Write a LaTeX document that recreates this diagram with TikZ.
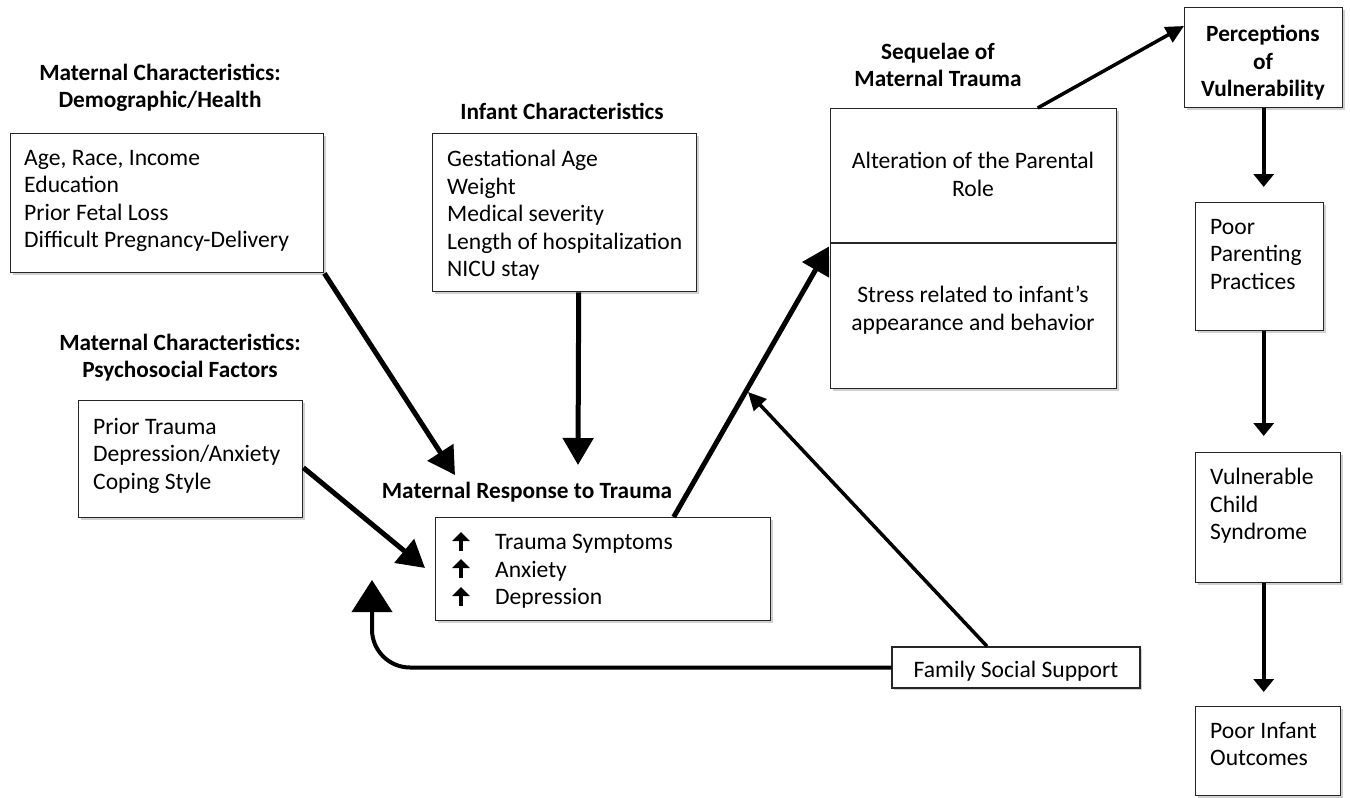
\documentclass[tikz,border=0pt]{standalone}
\usepackage{fontspec}
\setmainfont{Carlito}
\usetikzlibrary{arrows.meta,shadows,calc}
\begin{document}
\begin{tikzpicture}[x=1pt,y=-1pt,
  every node/.style={font=\fontsize{23.6}{27.5}\selectfont},
  box/.style={draw=black!85, line width=1.4pt, fill=white, inner sep=0pt,
    drop shadow={shadow xshift=2pt,shadow yshift=-2pt,opacity=0.3,fill=black!60}},
  ttl/.style={font=\fontsize{23.3}{27}\selectfont\bfseries, align=center, inner sep=0pt},
  txt/.style={align=left, inner sep=0pt, anchor=north west},
  ctxt/.style={align=center, inner sep=0pt},
  big/.style={line width=5pt, -{Triangle[length=27pt,width=30pt]}},
  chain/.style={line width=4pt, -{Triangle[length=13pt,width=20pt]}},
  mid/.style={line width=3.5pt, -{Triangle[length=18pt,width=17pt]}},
  fback/.style={line width=4pt, rounded corners=38pt, -{Triangle[length=32pt,width=40pt]}},
  bullarr/.style={line width=3.5pt, -{Triangle[length=9pt,width=17pt]}}
]
\useasboundingbox[fill=white] (0,0) rectangle (1350,798);

% titles
\node[ttl] (t1) at (160,88) {Maternal Characteristics:\\Demographic/Health};
\node[ttl] (t2) at (562,111) {Infant Characteristics};
\node[ttl] (t3) at (180,357.5) {Maternal Characteristics:\\Psychosocial Factors};
\node[ttl] (t4) at (527,492) {Maternal Response to Trauma};
\node[ttl] (t5) at (938,65) {Sequelae of\\Maternal Trauma};

% boxes
\node[box, anchor=north west, minimum width=313pt, minimum height=139pt] (b1) at (10,133) {};
\node[txt] (b1t) at (24,150) {Age, Race, Income\\Education\\Prior Fetal Loss\\Difficult Pregnancy-Delivery};

\node[box, anchor=north west, minimum width=264pt, minimum height=158pt] (b2) at (432,133) {};
\node[txt] (b2t) at (447,150) {Gestational Age\\Weight\\Medical severity\\Length of hospitalization\\NICU stay};

\node[box, anchor=north west, minimum width=224pt, minimum height=117pt] (b3) at (78,400) {};
\node[txt] (b3t) at (93,418) {Prior Trauma\\Depression/Anxiety\\Coping Style};

\node[box, anchor=north west, minimum width=335pt, minimum height=103pt] (b4) at (435,517) {};
\node[txt] (b4t) at (495,534) {Trauma Symptoms\\Anxiety\\Depression};
\foreach \yy in {542,569,597}
  \draw[bullarr] (461,\yy+9) -- (461,\yy-10);

\node[box, anchor=north west, minimum width=286pt, minimum height=280pt] (b5) at (830,108) {};
\draw[line width=1.6pt, black!85] (b5.west |- 0,243) -- (b5.east |- 0,243);
\node[ctxt] (b5a) at (973,174.5) {Alteration of the Parental\\Role};
\node[ctxt] (b5b) at (973,310) {Stress related to infant’s\\appearance and behavior};

\node[box, anchor=north west, minimum width=158pt, minimum height=100pt] (perc) at (1184,7) {};
\node[ttl, font=\fontsize{23.3}{27.5}\selectfont\bfseries] (perct) at (1263,63) {Perceptions\\of\\Vulnerability};

\node[box, anchor=north west, minimum width=128pt, minimum height=128pt] (pp) at (1195,202) {};
\node[txt] (ppt) at (1210,219) {Poor\\Parenting\\Practices};

\node[box, anchor=north west, minimum width=145pt, minimum height=130pt] (vcs) at (1195,452) {};
\node[txt] (vcst) at (1210,468) {Vulnerable\\Child\\Syndrome};

\node[box, anchor=north west, minimum width=145pt, minimum height=89pt] (pio) at (1195,706) {};
\node[txt] (piot) at (1210,722) {Poor Infant\\Outcomes};

\node[box, minimum width=248pt, minimum height=41pt] (fam) at (1016,667.5) {};
\node[ctxt] (famt) at (1016,671) {Family Social Support};

% free ends
\coordinate (tip1) at (455,475);
\coordinate (tip2) at (578,465);
\coordinate (tip3) at (425,568);
\coordinate (tip6) at (748,392);
\coordinate (tip7) at (1184,26);
\coordinate (fbtip) at (372,580);

% connectors
\draw[big] (b1.south east) -- (tip1);
\draw[big] ($(b2.south)+(14,0)$) -- (tip2);
\draw[big] ($(b3.east)+(0,8.5)$) -- (tip3);
\draw[big, shorten >=2pt] ($(b4.north)+(70.5,0)$) -- ($(b5.west)+(0,-4)$);
\draw[mid] ($(fam.north)+(-29,0)$) -- (tip6);
\draw[mid] ($(b5.north)+(64,0)$) -- (tip7);
\draw[chain, shorten >=15pt] (perc.south) -- (perc.south |- pp.north);
\draw[chain, shorten >=16pt] (perc.south |- pp.south) -- (perc.south |- vcs.north);
\draw[chain, shorten >=14pt] (perc.south |- vcs.south) -- (perc.south |- pio.north);
\draw[fback] (fam.west) -- (fam.west -| fbtip) -- (fbtip);
\end{tikzpicture}
\end{document}
